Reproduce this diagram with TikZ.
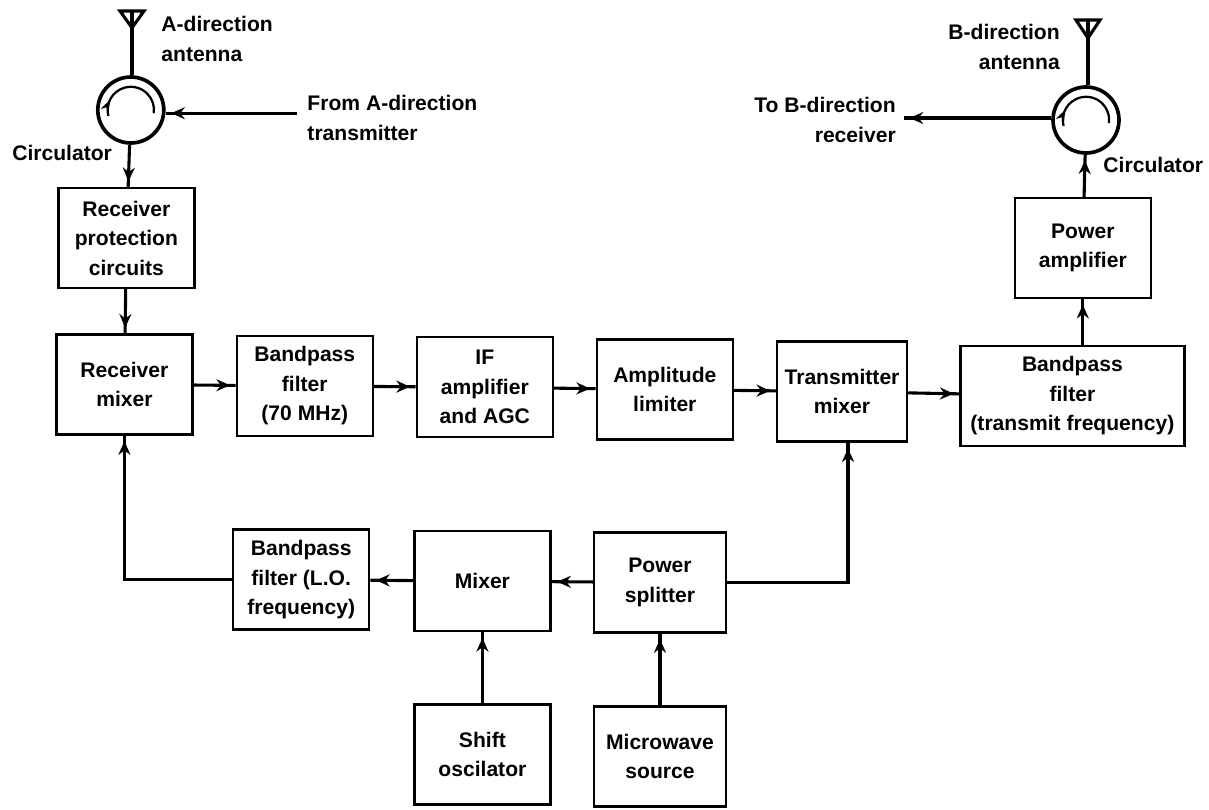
\documentclass[tikz,border=0pt]{standalone}
\usepackage{fontspec}
\setmainfont{Liberation Sans}
\usetikzlibrary{shapes.geometric, arrows.meta, decorations.markings}
\tikzstyle{process} = [rectangle, minimum width=3.4cm, minimum height=2.5cm, inner sep=0pt,
    align=center, draw=black, line width=1.7pt, font=\fontsize{15}{21}\selectfont\bfseries]
\tikzstyle{ring} = [circle, minimum size=1.65cm, inner sep=0pt, draw=black, line width=2.6pt]
\tikzstyle{tag} = [inner sep=0pt, font=\fontsize{15}{21}\selectfont\bfseries]
\tikzstyle{arrow} = [line width=2.2pt, postaction={decorate},
    decoration={markings, mark=at position -0.14cm with {\arrow{Stealth[length=0.34cm, width=0.3cm]}}}]
\tikzstyle{line} = [line width=2.2pt]
\tikzstyle{turn} = [line width=1.6pt, postaction={decorate},
    decoration={markings, mark=at position 0.2 with {\arrow{Stealth[length=0.3cm, width=0.22cm]}}}]

\begin{document}
\begin{tikzpicture}
    \useasboundingbox (0,0) rectangle (30.225,-20.225);

    \node (rxmixer) [process] at (3.11,-9.61) {Receiver\\mixer};
    \node (rxprot) [process, above of=rxmixer, yshift=2.66cm, xshift=0.05cm] {Receiver\\protection\\circuits};
    \node (bpif) [process, right of=rxmixer, xshift=3.51cm, yshift=-0.04cm] {Bandpass\\filter\\(70 MHz)};
    \node (ifamp) [process, right of=bpif, xshift=3.5cm, yshift=-0.03cm] {IF\\amplifier\\and AGC};
    \node (limiter) [process, right of=ifamp, xshift=3.5cm, yshift=-0.06cm] {Amplitude\\limiter};
    \node (txmixer) [process, right of=limiter, xshift=3.43cm, yshift=-0.05cm, minimum width=3.25cm] {Transmitter\\mixer};
    \node (bptx) [process, right of=txmixer, xshift=4.76cm, yshift=-0.11cm, minimum width=5.6cm] {Bandpass\\filter\\(transmit frequency)};
    \node (pamp) [process, above of=bptx, yshift=2.7cm, xshift=0.26cm] {Power\\amplifier};
    \node (bplo) [process, below of=bpif, yshift=-3.84cm, xshift=-0.09cm] {Bandpass\\filter (L.O.\\frequency)};
    \node (mixer) [process, right of=bplo, xshift=3.53cm, yshift=-0.04cm] {Mixer};
    \node (splitter) [process, right of=mixer, xshift=3.44cm, yshift=-0.03cm, minimum width=3.3cm] {Power\\splitter};
    \node (shift) [process, below of=mixer, yshift=-3.33cm] {Shift\\oscilator};
    \node (source) [process, below of=splitter, yshift=-3.35cm, minimum width=3.3cm] {Microwave\\source};

    \node (circa) [ring, above of=rxprot, yshift=2.2cm, xshift=0.11cm] {};
    \node (circb) [ring, above of=pamp, yshift=2.2cm, xshift=0.08cm] {};
    \coordinate [above of=circa, yshift=1.475cm, xshift=0.03cm] (anta);
    \coordinate [above of=circb, yshift=1.5cm, xshift=0.05cm] (antb);
    \coordinate (txa) at (7.43,-2.83);
    \coordinate (rxb) at (22.6,-2.95);

    \node (lblanta) [tag, anchor=west, align=left] at (4.03,-0.98) {A-direction\\antenna};
    \node (lbltxa) [tag, anchor=west, align=left] at (7.68,-2.95) {From A-direction\\transmitter};
    \node (lblcirca) [tag, anchor=west] at (0.3,-3.83) {Circulator};
    \node (lblantb) [tag, anchor=east, align=right] at (26.5,-1.18) {B-direction\\antenna};
    \node (lblrxb) [tag, anchor=east, align=right] at (22.4,-3) {To B-direction\\receiver};
    \node (lblcircb) [tag, anchor=west] at (27.58,-4.13) {Circulator};

    \draw [line] (anta) -- (anta |- circa.north);
    \draw [line, line join=miter] ([xshift=-0.3cm]anta) -- ([xshift=0.3cm]anta) -- ([yshift=-0.42cm]anta) -- cycle;
    \draw [line] (antb) -- (antb |- circb.north);
    \draw [line, line join=miter] ([xshift=-0.3cm]antb) -- ([xshift=0.3cm]antb) -- ([yshift=-0.45cm]antb) -- cycle;
    \draw [turn] ([shift={(195:0.58)}]circa.center) arc [start angle=195, end angle=-8, radius=0.58];
    \draw [turn] ([shift={(195:0.58)}]circb.center) arc [start angle=195, end angle=-8, radius=0.58];

    \draw [arrow] (txa) -- (txa -| circa.east);
    \draw [arrow] (rxb -| circb.west) -- (rxb);
    \draw [arrow] (circa) -- (rxprot);
    \draw [arrow] (rxprot) -- (rxmixer);
    \draw [arrow] (rxmixer) -- (bpif);
    \draw [arrow] (bpif) -- (ifamp);
    \draw [arrow] (ifamp) -- (limiter);
    \draw [arrow] (limiter) -- (txmixer);
    \draw [arrow] (txmixer) -- (bptx);
    \draw [arrow] (bptx.north -| pamp.south) -- (pamp.south);
    \draw [arrow] (pamp) -- (circb);
    \draw [arrow] (splitter) -- (mixer);
    \draw [arrow] (mixer) -- (bplo);
    \draw [arrow] (bplo.west) -| (rxmixer.south);
    \draw [arrow] (splitter.east) -| ([xshift=0.15cm]txmixer.south);
    \draw [arrow] (shift) -- (mixer);
    \draw [arrow] (source) -- (splitter);
\end{tikzpicture}
\end{document}
